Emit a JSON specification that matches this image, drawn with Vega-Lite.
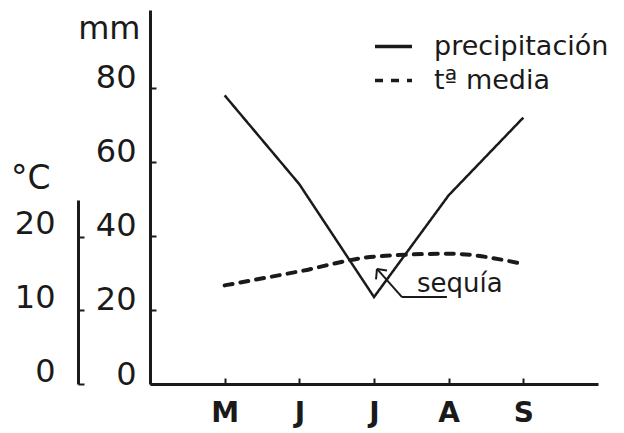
{
  "$schema": "https://vega.github.io/schema/vega-lite/v6.json",
  "width": 448,
  "height": 374,
  "autosize": {"type": "none"},
  "padding": {"left": 150, "top": 10, "right": 26, "bottom": 49},
  "background": "white",
  "config": {
    "view": {"stroke": null},
    "font": "DejaVu Sans",
    "axis": {"grid": false, "ticks": true, "domainColor": "#1a1a1a", "domainWidth": 3, "tickColor": "#1a1a1a", "tickWidth": 2, "labelColor": "#1a1a1a", "titleColor": "#1a1a1a"}
  },
  "datasets": {
    "clima": [
      {"mes": 5, "pp": 78, "t": 13.4},
      {"mes": 6, "pp": 54, "t": 15.3},
      {"mes": 7, "pp": 23.5, "t": 17.3},
      {"mes": 8, "pp": 51, "t": 17.7},
      {"mes": 9, "pp": 72, "t": 16.3}
    ],
    "flecha": [
      {"mes": 7.04, "pp": 31.1, "mes2": 7.375, "pp2": 23.5},
      {"mes": 7.375, "pp": 23.5, "mes2": 7.977, "pp2": 23.5},
      {"mes": 7.04, "pp": 31.1, "mes2": 7.174, "pp2": 30.7},
      {"mes": 7.04, "pp": 31.1, "mes2": 7.027, "pp2": 28.3}
    ],
    "nota": [{"texto": "sequía", "mes": 7.576, "pp": 24.9}]
  },
  "resolve": {"scale": {"y": "independent"}},
  "layer": [
    {
      "data": {"name": "clima"},
      "mark": {"type": "line", "color": "#1a1a1a", "strokeWidth": 2.5},
      "encoding": {
        "x": {"field": "mes", "type": "quantitative", "scale": {"domain": [4, 10], "nice": false, "zero": false},
          "axis": {"title": null, "values": [5, 6, 7, 8, 9], "labelExpr": "datum.value==5?'M':datum.value==6?'J':datum.value==7?'J':datum.value==8?'A':'S'",
            "labelFontSize": 28, "labelFontWeight": "bold", "labelBaseline": "alphabetic", "labelPadding": 43, "tickSize": -6}},
        "y": {"field": "pp", "type": "quantitative", "scale": {"domain": [0, 101.08], "nice": false},
          "axis": {"values": [0, 20, 40, 60, 80], "title": "mm", "titleAngle": 0, "titleAlign": "right", "titleBaseline": "alphabetic", "titleX": -10, "titleY": 28, "titleFontSize": 32, "titleFontWeight": "normal",
            "labelFontSize": 32, "labelBaseline": "alphabetic", "labelPadding": 20, "tickSize": -6}},
        "strokeDash": {"datum": "precipitación", "scale": {"domain": ["precipitación", "tª media"], "range": [[1, 0], [8, 8]]},
          "legend": {"orient": "none", "legendX": 223, "legendY": 16, "title": null, "symbolType": "stroke", "symbolSize": 1369, "symbolStrokeWidth": 3.5, "symbolStrokeColor": "#1a1a1a", "labelFontSize": 27, "labelColor": "#1a1a1a", "labelOffset": 20, "labelLimit": 0, "rowPadding": 0}}
      }
    },
    {
      "data": {"name": "clima"},
      "mark": {"type": "line", "color": "#1a1a1a", "strokeWidth": 4, "strokeCap": "round", "interpolate": "monotone"},
      "encoding": {
        "x": {"field": "mes", "type": "quantitative"},
        "y": {"field": "t", "type": "quantitative", "scale": {"domain": [0, 25], "range": [374, 190], "nice": false},
          "axis": {"orient": "left", "offset": 72, "values": [0, 10, 20], "title": "°C", "titleAngle": 0, "titleAlign": "right", "titleBaseline": "alphabetic", "titleX": -28, "titleY": 178, "titleFontSize": 33, "titleFontWeight": "normal",
            "labelFontSize": 32, "labelBaseline": "alphabetic", "labelPadding": 29, "labelOffset": -3, "tickSize": -6}},
        "strokeDash": {"datum": "tª media"}
      }
    },
    {
      "data": {"name": "flecha"},
      "mark": {"type": "rule", "color": "#1a1a1a", "strokeWidth": 2},
      "encoding": {
        "x": {"field": "mes", "type": "quantitative"},
        "x2": {"field": "mes2"},
        "y": {"field": "pp", "type": "quantitative", "scale": {"domain": [0, 101.08], "nice": false}, "axis": null},
        "y2": {"field": "pp2"}
      }
    },
    {
      "data": {"name": "nota"},
      "mark": {"type": "text", "align": "left", "baseline": "alphabetic", "fontSize": 26, "color": "#1a1a1a"},
      "encoding": {
        "x": {"field": "mes", "type": "quantitative"},
        "y": {"field": "pp", "type": "quantitative", "scale": {"domain": [0, 101.08], "nice": false}, "axis": null},
        "text": {"field": "texto"}
      }
    }
  ]
}
